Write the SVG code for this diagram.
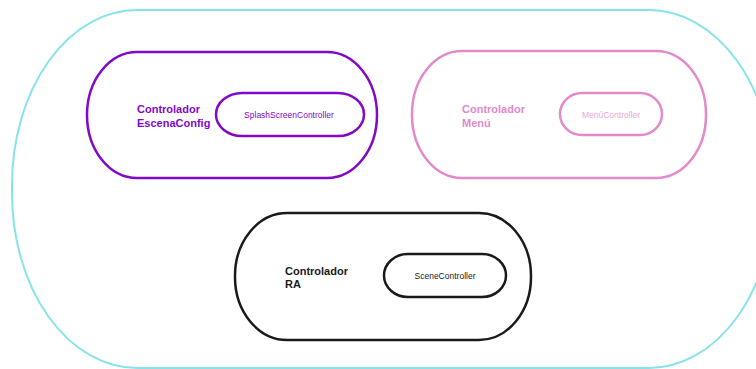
<svg xmlns="http://www.w3.org/2000/svg" width="756" height="369" viewBox="0 0 756 369">
<style>
.box{fill:none;stroke-width:2.5}
.pill{fill:none;stroke-width:2.5}
.title{font-family:"Liberation Sans",Arial,sans-serif;font-weight:bold;font-size:11px}
.lbl{font-family:"Liberation Sans",Arial,sans-serif;font-size:8.5px;text-anchor:middle}
.pu{stroke:#8209C8}
.pk{stroke:#E28ACB}
.bk{stroke:#1a1a1a}
</style>
<rect width="756" height="369" fill="#ffffff"/>
<g id="system">
<rect x="12" y="10" width="762" height="358" rx="125" ry="175" fill="none" stroke="#86E3EA" stroke-width="2"/>
</g>
<g id="controlador-escenaconfig">
<rect class="box pu" x="87" y="52" width="290" height="126" rx="50" ry="63"/>
<text class="title" x="137" y="113" fill="#8209C8">Controlador</text>
<text class="title" x="137" y="127" fill="#8209C8">EscenaConfig</text>
<g id="splashscreencontroller">
<rect class="pill pu" x="216" y="93" width="148" height="43" rx="26" ry="21.5"/>
<text class="lbl" x="289" y="118" fill="#8209C8">SplashScreenController</text>
</g>
</g>
<g id="controlador-menu">
<rect class="box pk" x="412" y="51" width="294" height="127" rx="50" ry="63"/>
<text class="title" x="462" y="113" fill="#E28ACB">Controlador</text>
<text class="title" x="462" y="127" fill="#E28ACB">Menú</text>
<g id="menucontroller">
<rect class="pill pk" x="560" y="93" width="102" height="42" rx="22" ry="21"/>
<text class="lbl" x="611" y="118" fill="#EBA6D8" font-size="8">MenúController</text>
</g>
</g>
<g id="controlador-ra">
<rect class="box bk" x="235" y="213" width="296" height="127" rx="52" ry="63"/>
<text class="title" x="285" y="275" fill="#1a1a1a">Controlador</text>
<text class="title" x="285" y="288" fill="#1a1a1a">RA</text>
<g id="scenecontroller">
<rect class="pill bk" x="384" y="254" width="122" height="43" rx="24" ry="21.5"/>
<text class="lbl" x="445" y="279" fill="#1a1a1a">SceneController</text>
</g>
</g>
<g id="connectors"></g>
</svg>
